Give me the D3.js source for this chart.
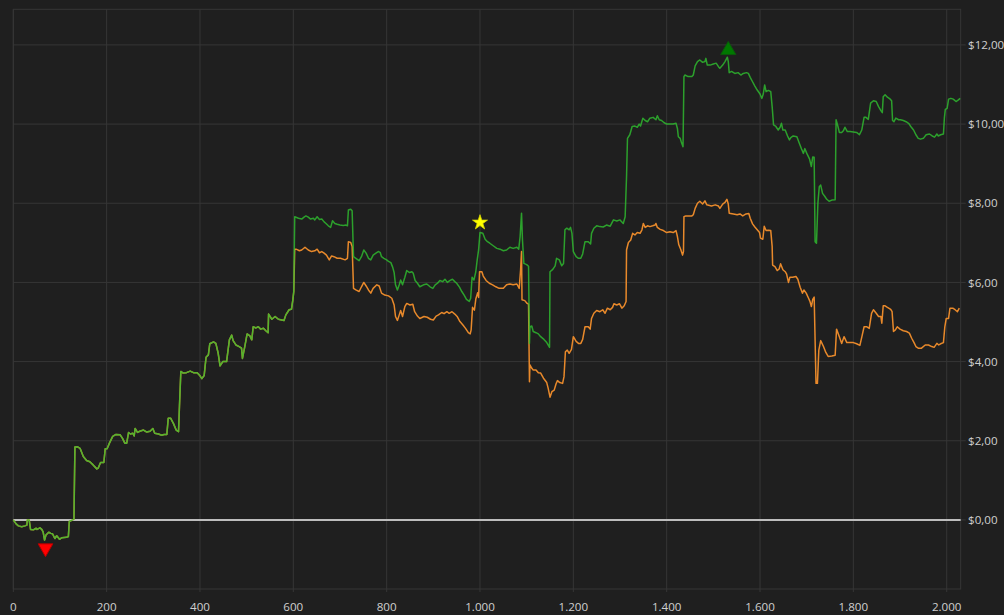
<!DOCTYPE html>
<html>
<head>
<meta charset="utf-8">
<script src="https://cdnjs.cloudflare.com/ajax/libs/d3/7.8.5/d3.min.js"></script>
<style>
  html, body { margin: 0; padding: 0; background: #1f1f1f; }
  #equity { width: 1004px; height: 615px; }
  .tick-label { font-family: "Segoe UI", "Open Sans", sans-serif; font-size: 11.6px; fill: #cfcfcf; }
</style>
</head>
<body>
<div id="equity"></div>
<script>
'use strict';

// trade number / cumulative profit pairs
// both runs are identical until trade ~600
var sharedRun = [[0,0],[6,-0.10],[11,-0.15],[18,-0.17],[25,-0.15],[29,-0.13],[30,0],[34,0],[37,-0.24],[43,-0.25],[49,-0.21],[51,-0.24],[57,-0.20],[61,-0.24],[64,-0.31],[67,-0.51],[70,-0.38],[76,-0.31],[80,-0.34],[84,-0.35],[89,-0.47],[93,-0.40],[99,-0.49],[104,-0.45],[114,-0.44],[118,-0.42],[120,-0.04],[127,0],[130,0.02],[132,1.84],[137,1.85],[143,1.81],[150,1.60],[157,1.50],[164,1.47],[171,1.39],[179,1.29],[182,1.31],[187,1.45],[194,1.45],[197,1.80],[201,1.80],[206,1.94],[213,2.11],[220,2.16],[229,2.15],[234,2.06],[239,1.94],[243,1.94],[247,2.21],[251,2.17],[256,2.19],[259,2.12],[261,2.31],[266,2.21],[271,2.24],[279,2.27],[286,2.22],[293,2.24],[299,2.31],[303,2.19],[311,2.17],[318,2.14],[323,2.16],[329,2.16],[332,2.57],[337,2.57],[343,2.44],[349,2.27],[354,2.23],[356,2.86],[359,3.75],[364,3.71],[371,3.72],[379,3.76],[386,3.72],[394,3.72],[400,3.64],[404,3.57],[409,3.65],[413,4.11],[418,4.17],[421,4.45],[429,4.50],[434,4.46],[439,4.21],[443,3.89],[449,4.00],[457,4.00],[463,4.55],[468,4.67],[471,4.53],[477,4.42],[484,4.38],[489,4.34],[491,4.08],[496,4.38],[501,4.70],[507,4.65],[511,4.55],[514,4.88],[520,4.85],[525,4.88],[530,4.82],[536,4.84],[541,4.78],[546,4.73],[547,5.20],[554,5.07],[561,5.14],[568,5.07],[580,5.04],[584,5.18],[591,5.31],[596,5.32],[599,5.56],[601,5.77]]

var greenRun = [[603,7.66],[611,7.62],[618,7.60],[623,7.65],[627,7.68],[632,7.65],[637,7.60],[643,7.62],[646,7.58],[651,7.66],[656,7.59],[661,7.60],[666,7.53],[670,7.49],[675,7.43],[680,7.39],[684,7.56],[689,7.49],[694,7.47],[700,7.45],[707,7.44],[713,7.45],[716,7.43],[718,7.83],[723,7.85],[726,7.81],[729,6.65],[734,6.61],[741,6.55],[746,6.65],[751,6.82],[756,6.74],[761,6.61],[766,6.57],[771,6.69],[777,6.74],[782,6.78],[786,6.76],[789,6.65],[794,6.61],[800,6.57],[804,6.53],[809,6.50],[813,6.38],[816,6.25],[819,5.94],[823,5.81],[827,5.94],[830,6.06],[834,5.94],[839,6.13],[843,6.30],[849,6.25],[854,6.27],[857,6.23],[861,6.05],[866,5.98],[871,5.89],[879,5.94],[886,5.96],[893,5.89],[899,5.85],[904,5.94],[909,5.98],[914,6.05],[920,6.02],[925,6.08],[930,6.00],[936,6.05],[941,6.08],[946,6.02],[950,5.98],[956,5.88],[961,5.77],[966,5.68],[971,5.57],[977,5.52],[980,5.60],[983,6.13],[987,6.06],[991,6.27],[994,6.57],[997,6.82],[1000,7.26],[1006,7.24],[1011,7.09],[1016,7.03],[1021,6.99],[1029,6.92],[1036,6.86],[1043,6.84],[1050,6.80],[1057,6.82],[1064,6.89],[1071,6.86],[1079,6.89],[1083,6.84],[1086,7.16],[1089,7.75],[1091,7.07],[1094,6.48],[1100,6.45],[1104,6.41],[1106,4.46],[1107,4.88],[1111,4.90],[1114,4.76],[1120,4.73],[1125,4.70],[1130,4.63],[1137,4.56],[1143,4.48],[1149,4.36],[1150,6.27],[1156,6.33],[1161,6.42],[1164,6.61],[1170,6.57],[1175,6.42],[1179,6.48],[1182,7.33],[1186,7.37],[1191,7.33],[1194,7.39],[1197,7.24],[1200,6.78],[1206,6.65],[1211,6.61],[1216,6.61],[1220,6.72],[1225,7.03],[1232,7.03],[1237,6.97],[1239,7.24],[1244,7.37],[1250,7.43],[1257,7.41],[1264,7.40],[1271,7.45],[1279,7.42],[1286,7.58],[1293,7.55],[1300,7.58],[1307,7.49],[1311,7.66],[1314,8.67],[1316,9.64],[1321,9.73],[1326,9.94],[1332,9.95],[1337,9.92],[1341,10.00],[1344,9.95],[1349,10.15],[1354,10.09],[1359,10.06],[1364,10.15],[1371,10.17],[1377,10.11],[1380,10.21],[1384,10.11],[1389,10.09],[1394,10.04],[1400,10.00],[1407,10.00],[1414,10.00],[1420,10.02],[1423,9.89],[1425,9.68],[1429,9.64],[1432,9.52],[1435,9.43],[1437,11.20],[1439,11.24],[1446,11.20],[1454,11.20],[1457,11.24],[1461,11.47],[1466,11.58],[1471,11.62],[1477,11.56],[1482,11.58],[1484,11.66],[1487,11.49],[1493,11.49],[1500,11.52],[1506,11.54],[1511,11.45],[1514,11.41],[1520,11.49],[1525,11.58],[1530,11.69],[1532,11.58],[1534,11.30],[1539,11.33],[1546,11.28],[1553,11.30],[1559,11.24],[1564,11.28],[1571,11.30],[1575,11.28],[1579,11.18],[1584,11.07],[1589,10.96],[1594,10.86],[1600,10.76],[1604,10.65],[1607,10.76],[1610,10.99],[1613,10.82],[1618,10.85],[1623,10.82],[1626,10.44],[1629,9.98],[1634,9.94],[1639,9.85],[1643,9.92],[1646,10.02],[1649,9.85],[1654,9.85],[1659,9.70],[1663,9.60],[1666,9.66],[1671,9.70],[1679,9.68],[1684,9.52],[1689,9.37],[1693,9.26],[1696,9.38],[1701,9.24],[1706,9.12],[1710,8.93],[1713,9.17],[1716,9.16],[1718,7.03],[1721,6.99],[1724,8.00],[1727,8.42],[1730,8.46],[1734,8.25],[1739,8.17],[1743,8.10],[1748,8.05],[1754,8.08],[1761,8.09],[1763,10.11],[1767,9.94],[1770,9.79],[1775,9.79],[1779,9.84],[1782,9.92],[1787,9.81],[1793,9.81],[1800,9.80],[1807,9.79],[1813,9.73],[1818,9.85],[1823,10.17],[1827,10.17],[1832,10.12],[1837,10.53],[1843,10.59],[1849,10.57],[1854,10.44],[1859,10.34],[1862,10.29],[1864,10.69],[1868,10.74],[1873,10.68],[1879,10.63],[1882,10.59],[1884,10.09],[1887,10.06],[1891,10.15],[1897,10.11],[1901,10.11],[1907,10.09],[1913,10.06],[1919,10.01],[1923,9.94],[1929,9.85],[1934,9.73],[1939,9.64],[1944,9.62],[1950,9.64],[1956,9.73],[1963,9.75],[1969,9.70],[1974,9.67],[1979,9.75],[1982,9.70],[1987,9.73],[1993,9.75],[1995,10.15],[1997,10.37],[2001,10.40],[2004,10.63],[2009,10.65],[2014,10.63],[2020,10.57],[2025,10.61],[2029,10.65]]

var orangeRun = [[603,6.84],[606,6.84],[613,6.80],[618,6.82],[625,6.89],[632,6.82],[639,6.78],[646,6.80],[651,6.84],[656,6.75],[661,6.78],[666,6.74],[671,6.69],[677,6.57],[682,6.67],[687,6.65],[694,6.61],[701,6.61],[711,6.57],[716,6.61],[718,7.03],[723,7.01],[726,6.91],[729,5.85],[734,5.81],[741,5.77],[746,5.89],[751,6.00],[756,5.91],[761,5.81],[766,5.73],[771,5.85],[779,5.94],[784,5.91],[789,5.73],[796,5.68],[804,5.66],[811,5.60],[816,5.43],[819,5.14],[823,5.04],[827,5.18],[830,5.29],[834,5.14],[839,5.39],[843,5.47],[850,5.43],[856,5.45],[860,5.26],[866,5.15],[871,5.09],[880,5.14],[887,5.12],[894,5.07],[900,5.05],[906,5.15],[911,5.18],[918,5.24],[923,5.21],[929,5.26],[934,5.22],[940,5.26],[946,5.20],[951,5.14],[957,5.01],[963,4.93],[969,4.84],[975,4.73],[979,4.70],[981,4.80],[984,5.37],[988,5.30],[991,5.58],[995,5.74],[997,5.62],[999,6.27],[1004,6.27],[1007,6.16],[1013,6.05],[1020,5.98],[1027,5.94],[1034,5.89],[1041,5.85],[1050,5.85],[1057,5.94],[1064,5.96],[1071,5.94],[1079,5.96],[1084,5.85],[1087,6.32],[1089,6.78],[1090,5.56],[1096,5.54],[1101,5.47],[1104,5.45],[1106,3.49],[1107,3.92],[1111,3.83],[1114,3.79],[1120,3.79],[1125,3.72],[1130,3.71],[1136,3.58],[1143,3.47],[1146,3.33],[1150,3.10],[1154,3.24],[1159,3.28],[1163,3.44],[1166,3.52],[1171,3.47],[1177,3.45],[1180,3.62],[1183,4.25],[1187,4.29],[1191,4.21],[1196,4.31],[1200,4.63],[1206,4.51],[1211,4.46],[1216,4.46],[1220,4.56],[1225,4.88],[1232,4.88],[1236,4.82],[1239,5.09],[1244,5.22],[1250,5.29],[1257,5.26],[1263,5.31],[1268,5.22],[1273,5.35],[1279,5.31],[1284,5.37],[1287,5.46],[1293,5.43],[1299,5.46],[1304,5.35],[1309,5.41],[1313,5.52],[1314,6.82],[1318,7.01],[1323,7.07],[1327,7.24],[1332,7.20],[1337,7.26],[1343,7.24],[1347,7.33],[1350,7.49],[1354,7.39],[1359,7.43],[1364,7.41],[1370,7.43],[1375,7.45],[1377,7.49],[1380,7.39],[1386,7.34],[1393,7.31],[1400,7.26],[1407,7.28],[1414,7.26],[1420,7.31],[1423,7.16],[1426,6.95],[1430,6.84],[1434,6.69],[1436,6.78],[1437,7.66],[1441,7.68],[1446,7.68],[1454,7.68],[1457,7.71],[1461,7.87],[1466,8.00],[1471,8.05],[1477,7.98],[1482,8.06],[1486,7.96],[1496,7.93],[1504,7.96],[1511,7.93],[1514,7.87],[1520,7.98],[1525,8.02],[1529,8.10],[1532,7.98],[1534,7.75],[1543,7.73],[1551,7.71],[1557,7.73],[1563,7.68],[1570,7.73],[1576,7.74],[1579,7.62],[1584,7.48],[1589,7.40],[1594,7.33],[1599,7.26],[1601,7.12],[1606,7.09],[1609,7.42],[1613,7.31],[1618,7.32],[1623,7.31],[1626,6.91],[1627,6.44],[1632,6.40],[1637,6.30],[1641,6.34],[1644,6.47],[1649,6.32],[1654,6.27],[1657,6.21],[1661,6.00],[1664,6.13],[1670,6.13],[1677,6.15],[1681,6.08],[1686,5.88],[1691,5.73],[1694,5.81],[1699,5.73],[1704,5.60],[1707,5.52],[1710,5.39],[1713,5.57],[1716,5.63],[1718,4.55],[1720,3.45],[1723,3.45],[1726,4.29],[1730,4.53],[1736,4.38],[1741,4.23],[1746,4.13],[1754,4.14],[1761,4.16],[1764,4.82],[1770,4.63],[1775,4.46],[1780,4.63],[1786,4.48],[1793,4.48],[1800,4.48],[1807,4.45],[1814,4.41],[1819,4.67],[1823,4.88],[1829,4.88],[1834,4.84],[1839,5.22],[1843,5.31],[1849,5.22],[1854,5.14],[1859,5.14],[1861,4.97],[1864,5.41],[1868,5.41],[1873,5.37],[1880,5.32],[1883,5.26],[1886,4.76],[1890,4.80],[1894,4.88],[1900,4.82],[1907,4.78],[1914,4.76],[1920,4.72],[1925,4.59],[1930,4.48],[1934,4.38],[1939,4.34],[1946,4.34],[1954,4.42],[1961,4.42],[1968,4.38],[1973,4.36],[1979,4.46],[1983,4.42],[1987,4.45],[1993,4.48],[1996,4.88],[1999,5.09],[2004,5.09],[2007,5.35],[2013,5.35],[2018,5.31],[2023,5.26],[2027,5.35]]

var xTicks = [0, 200, 400, 600, 800, 1000, 1200, 1400, 1600, 1800, 2000]
var yTicks = [0, 2, 4, 6, 8, 10, 12]

// marked trades: worst drawdown, best peak, highlighted trade
var lowPoint = [69, -0.51]
var highPoint = [1532, 11.69]
var starPoint = [1000, 7.26]

var W = 1004, H = 615
var plot = {left: 13.3, right: 960.7, top: 9.3, bottom: 589}

var locale = d3.formatLocale({decimal: ",", thousands: ".", grouping: [3], currency: ["$", ""]})
var fmtX = locale.format(",d")
var fmtY = locale.format("$,.2f")

var svg = d3.select("#equity").append("svg")
    .attr("width", W).attr("height", H)
    .style("background", "#1f1f1f")

var x = d3.scaleLinear().domain([0, 2030]).range([plot.left, plot.right])
var y = d3.scaleLinear().domain([-1.745, 12.9]).range([plot.bottom, plot.top])

// grid
svg.append("g").selectAll("line").data(xTicks).enter().append("line")
    .attr("x1", function(d) { return x(d) }).attr("x2", function(d) { return x(d) })
    .attr("y1", plot.top).attr("y2", plot.bottom + 3)
    .style("stroke", "#363636").style("stroke-width", 1)

svg.append("g").selectAll("line").data(yTicks).enter().append("line")
    .attr("x1", plot.left).attr("x2", plot.right + 5)
    .attr("y1", function(d) { return y(d) }).attr("y2", function(d) { return y(d) })
    .style("stroke", "#363636").style("stroke-width", 1)

svg.append("rect")
    .attr("x", plot.left).attr("y", plot.top)
    .attr("width", plot.right - plot.left).attr("height", plot.bottom - plot.top)
    .style("fill", "none").style("stroke", "#363636")

// axes labels
svg.append("g").selectAll("text").data(xTicks).enter().append("text")
    .attr("class", "tick-label")
    .attr("x", function(d) { return x(d) })
    .attr("y", 611)
    .attr("text-anchor", "middle")
    .text(function(d) { return fmtX(d) })

svg.append("g").selectAll("text").data(yTicks).enter().append("text")
    .attr("class", "tick-label")
    .attr("x", 968)
    .attr("y", function(d) { return y(d) })
    .attr("dy", "0.36em")
    .text(function(d) { return fmtY(d) })

// zero line
svg.append("line")
    .attr("x1", plot.left).attr("x2", plot.right)
    .attr("y1", y(0)).attr("y2", y(0))
    .style("stroke", "#bdbdbd").style("stroke-width", 2)

var line = d3.line()
    .x(function(d) { return x(d[0]) })
    .y(function(d) { return y(d[1]) })

svg.append("path")
    .datum(sharedRun.concat(orangeRun))
    .attr("d", line)
    .style("fill", "none").style("stroke", "#e8892b").style("stroke-width", 1.5)
    .style("stroke-linejoin", "round")

svg.append("path")
    .datum(sharedRun.concat(greenRun))
    .attr("d", line)
    .style("fill", "none").style("stroke", "#30c030").style("stroke-width", 1.5)
    .style("stroke-opacity", 0.8)
    .style("stroke-linejoin", "round")

// markers
svg.append("path")
    .attr("d", d3.symbol().type(d3.symbolTriangle).size(95))
    .attr("transform", "translate(" + x(lowPoint[0]) + "," + (y(lowPoint[1]) + 8) + ") rotate(180)")
    .style("fill", "#ff0000").style("stroke", "#b00000").style("stroke-width", 1)

svg.append("path")
    .attr("d", d3.symbol().type(d3.symbolTriangle).size(100))
    .attr("transform", "translate(" + x(highPoint[0]) + "," + (y(highPoint[1]) - 7) + ")")
    .style("fill", "#007800").style("stroke", "#0a5a0a").style("stroke-width", 1)

svg.append("path")
    .attr("d", d3.symbol().type(d3.symbolStar).size(70))
    .attr("transform", "translate(" + x(starPoint[0]) + "," + (y(starPoint[1]) - 10) + ")")
    .style("fill", "#ffff00").style("stroke", "#d8d800").style("stroke-width", 0.8)
</script>
</body>
</html>
